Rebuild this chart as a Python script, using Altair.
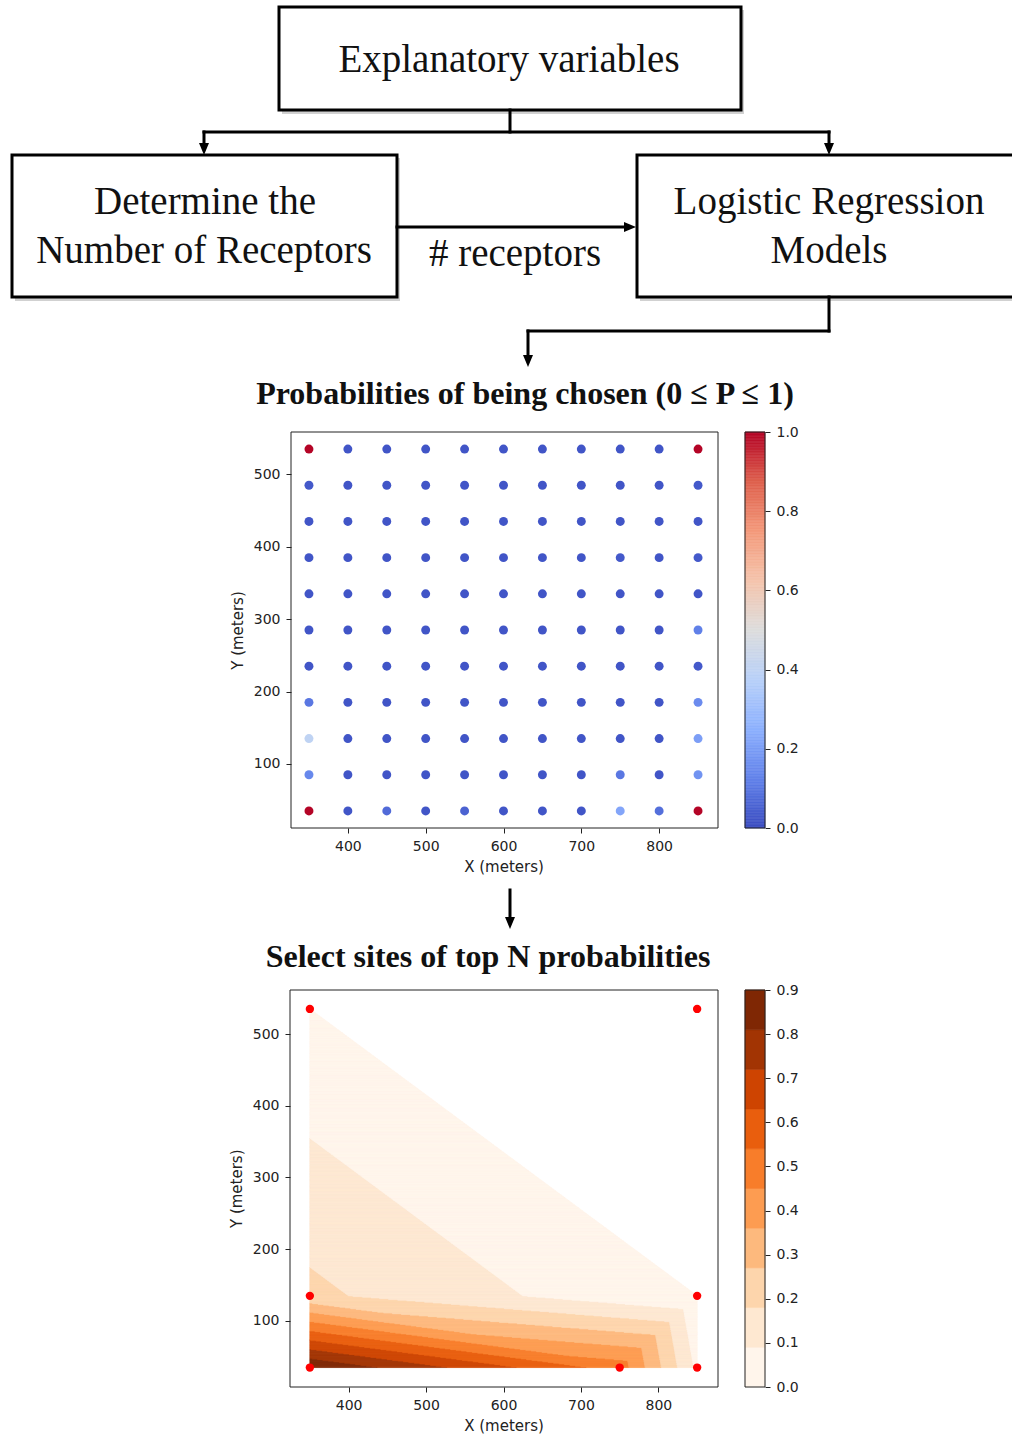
import numpy as np
import pandas as pd
import altair as alt

W, H = 1012, 1439

# ---------------------------------------------------------------------------
# Candidate receptor sites on a 50 m grid (upper panel)
grid_x = [350, 400, 450, 500, 550, 600, 650, 700, 750, 800, 850]
grid_y = [535, 485, 435, 385, 335, 285, 235, 185, 135, 85, 35]

# Probability of each site being chosen, one list per grid row (north to south)
p_row_535 = [1.00, 0.02, 0.02, 0.02, 0.02, 0.02, 0.02, 0.02, 0.02, 0.02, 1.00]
p_row_485 = [0.03, 0.02, 0.02, 0.02, 0.02, 0.02, 0.02, 0.02, 0.02, 0.02, 0.03]
p_row_435 = [0.02, 0.02, 0.02, 0.02, 0.02, 0.02, 0.02, 0.02, 0.02, 0.02, 0.02]
p_row_385 = [0.02, 0.02, 0.02, 0.02, 0.02, 0.02, 0.02, 0.02, 0.03, 0.02, 0.03]
p_row_335 = [0.02, 0.02, 0.02, 0.02, 0.02, 0.02, 0.02, 0.02, 0.02, 0.02, 0.02]
p_row_285 = [0.02, 0.02, 0.02, 0.02, 0.02, 0.02, 0.02, 0.02, 0.02, 0.02, 0.12]
p_row_235 = [0.02, 0.02, 0.02, 0.02, 0.02, 0.02, 0.02, 0.02, 0.02, 0.02, 0.03]
p_row_185 = [0.10, 0.02, 0.02, 0.02, 0.02, 0.02, 0.02, 0.02, 0.02, 0.02, 0.15]
p_row_135 = [0.40, 0.02, 0.02, 0.02, 0.02, 0.02, 0.02, 0.02, 0.02, 0.02, 0.20]
p_row_85 = [0.14, 0.02, 0.02, 0.02, 0.02, 0.02, 0.02, 0.02, 0.10, 0.02, 0.17]
p_row_35 = [1.00, 0.02, 0.07, 0.02, 0.05, 0.02, 0.02, 0.02, 0.22, 0.08, 1.00]
p_rows = [p_row_535, p_row_485, p_row_435, p_row_385, p_row_335, p_row_285,
          p_row_235, p_row_185, p_row_135, p_row_85, p_row_35]

# Selected sites (lower panel) and the value carried by each one
sel_x = [350, 750, 850, 350, 850, 350, 850]
sel_y = [35, 35, 35, 135, 135, 535, 535]
sel_val = [0.90, 0.50, 0.07, 0.20, 0.00, 0.00, 0.00]
# triangulation of the selected sites (indices into the lists above)
sel_triangles = [(0, 1, 3), (3, 1, 4), (1, 2, 4), (5, 3, 4), (5, 6, 4)]
contour_levels = [0.0, 0.09, 0.18, 0.27, 0.36, 0.45, 0.54, 0.63, 0.72, 0.81, 0.90]

# Tick labels
xy_ticks_x = [400, 500, 600, 700, 800]
xy_ticks_y = [100, 200, 300, 400, 500]
cbar1_ticks = [0.0, 0.2, 0.4, 0.6, 0.8, 1.0]
cbar2_ticks = [0.0, 0.1, 0.2, 0.3, 0.4, 0.5, 0.6, 0.7, 0.8, 0.9]

# ---------------------------------------------------------------------------
# Colour maps
coolwarm_stops = [0, 0.125, 0.25, 0.375, 0.5, 0.625, 0.75, 0.875, 1.0]
coolwarm_hex = ["#3b4cc0", "#6282ea", "#8db0fe", "#b8d0f9", "#dddddd",
                "#f5c4ac", "#f49a7b", "#de604d", "#b40426"]
oranges_bands = ["#fff5eb", "#fee8d1", "#fdd5ac", "#fdb97d", "#fd9c51",
                 "#f87d2a", "#e95e0d", "#ce4401", "#a23403", "#7f2704"]

cool_scale = alt.Scale(domain=coolwarm_stops, range=coolwarm_hex, interpolate="rgb")
band_scale = alt.Scale(type="threshold", domain=contour_levels[1:-1], range=oranges_bands)

# ---------------------------------------------------------------------------
# Tables
scatter_df = pd.DataFrame(
    [{"x": gx, "y": gy, "p": p_rows[r][c]}
     for r, gy in enumerate(grid_y) for c, gx in enumerate(grid_x)]
)
sel_df = pd.DataFrame({"x": sel_x, "y": sel_y, "v": sel_val})

# filled contours: linear interpolation over each triangle, drawn as row runs
sx = np.array(sel_x, float)
sy = np.array(sel_y, float)
sz = np.array(sel_val, float)
lv = np.array(contour_levels)
step_x, step_y = 0.5, 1.0
xs = np.arange(sx.min() + step_x / 2, sx.max(), step_x)
ys = np.arange(sy.min() + step_y / 2, sy.max(), step_y)
PX, PY = np.meshgrid(xs, ys)
Z = np.full(PX.shape, np.nan)
for i, j, k in sel_triangles:
    if sz[i] == sz[j] == sz[k]:
        continue  # flat triangle: no filled band
    x1, y1, x2, y2, x3, y3 = sx[i], sy[i], sx[j], sy[j], sx[k], sy[k]
    det = (y2 - y3) * (x1 - x3) + (x3 - x2) * (y1 - y3)
    a = ((y2 - y3) * (PX - x3) + (x3 - x2) * (PY - y3)) / det
    b = ((y3 - y1) * (PX - x3) + (x1 - x3) * (PY - y3)) / det
    c = 1 - a - b
    inside = (a >= -1e-9) & (b >= -1e-9) & (c >= -1e-9) & np.isnan(Z)
    Z[inside] = (a * sz[i] + b * sz[j] + c * sz[k])[inside]

band = np.where(np.isnan(Z), -1,
                np.clip(np.searchsorted(lv, np.nan_to_num(Z), side="left") - 1, 0, len(lv) - 2))
runs = []
for r, yc in enumerate(ys):
    row = band[r]
    n = len(row)
    k = 0
    while k < n:
        if row[k] < 0:
            k += 1
            continue
        s, b0 = k, row[k]
        while k < n and row[k] == b0:
            k += 1
        runs.append({"x0": xs[s] - step_x / 2, "x1": xs[k - 1] + step_x / 2,
                     "y0": yc - step_y / 2, "y1": yc + step_y / 2,
                     "v": (lv[b0] + lv[b0 + 1]) / 2})
contour_df = pd.DataFrame(runs)

# colour bars
cb1_edges = np.linspace(0, 1, 257)
cbar1_df = pd.DataFrame({"v0": cb1_edges[:-1], "v1": cb1_edges[1:],
                         "v": (cb1_edges[:-1] + cb1_edges[1:]) / 2})
cbar2_df = pd.DataFrame({"v0": lv[:-1], "v1": lv[1:], "v": (lv[:-1] + lv[1:]) / 2})

# ---------------------------------------------------------------------------
# Styling helpers
AX = dict(labelFont="DejaVu Sans", labelFontSize=14, labelColor="#222",
          tickColor="#222", tickSize=5, labelPadding=6, domain=False, grid=False,
          titleFont="DejaVu Sans", titleFontSize=15, titleFontWeight="normal",
          titleColor="#222")
SERIF = "Liberation Serif"


def spot():
    return alt.Chart(pd.DataFrame({"k": [0]}))


def hline(x0, x1, y, w=3):
    return spot().mark_rule(color="black", strokeWidth=w, strokeCap="square").encode(
        x=alt.value(x0), x2=alt.value(x1), y=alt.value(y))


def vline(x, y0, y1, w=3):
    return spot().mark_rule(color="black", strokeWidth=w, strokeCap="square").encode(
        x=alt.value(x), y=alt.value(y0), y2=alt.value(y1))


def head(x, y, shape):
    return spot().mark_point(shape=shape, filled=True, size=100, color="black",
                             opacity=1, strokeWidth=0).encode(x=alt.value(x), y=alt.value(y))


def box(x0, x1, y0, y1):
    shadow = spot().mark_rect(fill="#000", opacity=0.18).encode(
        x=alt.value(x0 + 3), x2=alt.value(x1 + 3), y=alt.value(y0 + 3), y2=alt.value(y1 + 4))
    face = spot().mark_rect(fill="white", stroke="black", strokeWidth=3).encode(
        x=alt.value(x0), x2=alt.value(x1), y=alt.value(y0), y2=alt.value(y1))
    return [shadow, face]


def label(txt, x, y, size=39):
    return spot().mark_text(font=SERIF, fontSize=size, align="center",
                            baseline="alphabetic", color="#111").encode(
        x=alt.value(x), y=alt.value(y), text=alt.value(txt))


def heading(txt, x, y):
    return spot().mark_text(font=SERIF, fontSize=32, fontWeight="bold", align="center",
                            baseline="alphabetic", color="#111").encode(
        x=alt.value(x), y=alt.value(y), text=alt.value(txt))


def frame(x0, x1, y0, y1):
    return spot().mark_rect(fillOpacity=0, stroke="#222", strokeWidth=1).encode(
        x=alt.value(x0), x2=alt.value(x1), y=alt.value(y0), y2=alt.value(y1))


DOWN = "M-1,-1.2L1,-1.2L0,1.2Z"
RIGHT = "M-1.2,-1L1.2,0L-1.2,1Z"

# ---------------------------------------------------------------------------
# Flow chart
flow = []
flow += box(279, 741, 7, 110)
flow += box(12, 397, 155, 297)
flow += box(637, 1030, 155, 297)
flow += [vline(510, 110, 132), hline(204, 829, 132),
         vline(204, 132, 146), vline(829, 132, 146),
         head(204, 149, DOWN), head(829, 149, DOWN),
         hline(397, 626, 227), head(630, 227, RIGHT),
         vline(829, 297, 331), hline(528, 829, 331), vline(528, 331, 358),
         head(528, 361, DOWN),
         vline(510, 890, 920), head(510, 923, DOWN)]
flow += [label("Explanatory variables", 509, 72),
         label("Determine the", 205, 214),
         label("Number of  Receptors", 204, 263),
         label("Logistic Regression", 829, 214),
         label("Models", 829, 263),
         label("# receptors", 515, 266),
         heading("Probabilities of being chosen (0 \u2264 P \u2264 1)", 525, 404),
         heading("Select sites of  top N probabilities", 488, 967)]

# ---------------------------------------------------------------------------
# Upper panel: probability of each grid site
top_x = alt.Scale(domain=[325, 875], range=[289.5, 717.5], zero=False, nice=False)
top_y = alt.Scale(domain=[10, 560], range=[829, 431], zero=False, nice=False)

scatter = alt.Chart(scatter_df).mark_circle(size=80, opacity=1).encode(
    x=alt.X("x:Q", scale=top_x,
            axis=alt.Axis(orient="bottom", offset=828 - H, values=xy_ticks_x,
                          title="X (meters)", titlePadding=6, **AX)),
    y=alt.Y("y:Q", scale=top_y,
            axis=alt.Axis(orient="left", offset=-291, values=xy_ticks_y,
                          title="Y (meters)", titlePadding=8, **AX)),
    color=alt.Color("p:Q", scale=cool_scale, legend=None),
)

cbar1 = alt.Chart(cbar1_df).mark_rect(strokeWidth=0.6).encode(
    x=alt.value(745), x2=alt.value(765),
    y=alt.Y("v0:Q", scale=alt.Scale(domain=[0, 1], range=[828, 432], nice=False, zero=False),
            axis=alt.Axis(orient="right", offset=765 - W, values=cbar1_ticks, format=".1f",
                          title=None, **AX)),
    y2="v1:Q",
    color=alt.Color("v:Q", scale=cool_scale, legend=None),
    stroke=alt.Stroke("v:Q", scale=cool_scale, legend=None),
)

# ---------------------------------------------------------------------------
# Lower panel: filled contours of the selected sites
bot_x = alt.Scale(domain=[325, 875], range=[290.5, 716.5], zero=False, nice=False)
bot_y = alt.Scale(domain=[10, 560], range=[1385.5, 991], zero=False, nice=False)

contours = alt.Chart(contour_df).mark_rect(strokeWidth=0.6).encode(
    x=alt.X("x0:Q", scale=bot_x,
            axis=alt.Axis(orient="bottom", offset=1387 - H, values=xy_ticks_x,
                          title="X (meters)", titlePadding=6, **AX)),
    x2="x1:Q",
    y=alt.Y("y0:Q", scale=bot_y,
            axis=alt.Axis(orient="left", offset=-290, values=xy_ticks_y,
                          title="Y (meters)", titlePadding=8, **AX)),
    y2="y1:Q",
    color=alt.Color("v:Q", scale=band_scale, legend=None),
    stroke=alt.Stroke("v:Q", scale=band_scale, legend=None),
)

sites = alt.Chart(sel_df).mark_circle(size=70, opacity=1, color="#ff0000").encode(
    x=alt.X("x:Q", scale=bot_x, axis=None),
    y=alt.Y("y:Q", scale=bot_y, axis=None),
)

cbar2 = alt.Chart(cbar2_df).mark_rect(strokeWidth=0.6).encode(
    x=alt.value(745), x2=alt.value(765),
    y=alt.Y("v0:Q", scale=alt.Scale(domain=[0, 0.9], range=[1387, 990], nice=False, zero=False),
            axis=alt.Axis(orient="right", offset=765 - W, values=cbar2_ticks, format=".1f",
                          title=None, **AX)),
    y2="v1:Q",
    color=alt.Color("v:Q", scale=band_scale, legend=None),
    stroke=alt.Stroke("v:Q", scale=band_scale, legend=None),
)

layers = flow + [
    scatter, frame(291, 718, 432, 828), cbar1, frame(745, 765, 432, 828),
    contours, sites, frame(290, 718, 990, 1387), cbar2, frame(745, 765, 990, 1387),
]

chart = alt.layer(*layers).resolve_scale(
    x="independent", y="independent", color="independent", stroke="independent"
).resolve_axis(
    x="independent", y="independent"
).properties(
    width=W, height=H, autosize=alt.AutoSizeParams(type="none"), padding=0,
    background="white",
).configure_view(stroke=None)

chart.save("out.html", embed_options={"renderer": "svg", "actions": False})
